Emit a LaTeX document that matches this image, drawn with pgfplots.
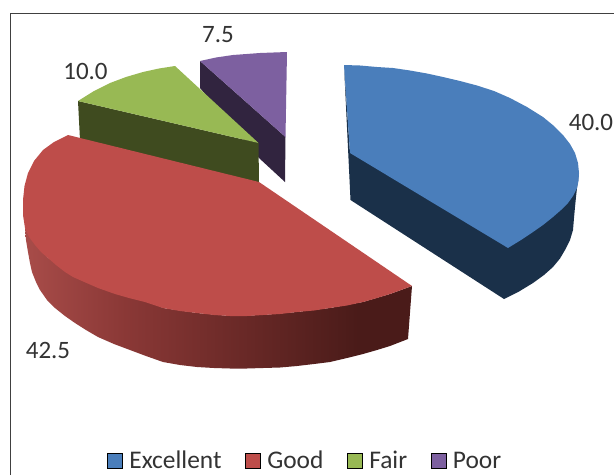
\documentclass[border=0pt]{standalone}
\usepackage{fontspec}
\setmainfont{Carlito}
\usepackage{pgfplots}
\pgfplotsset{compat=1.18}
\definecolor{cblue}{HTML}{4A7EBB}
\definecolor{cblued}{HTML}{1A3049}
\definecolor{cred}{HTML}{BE4D4A}
\definecolor{cgreen}{HTML}{98B954}
\definecolor{cgreend}{HTML}{3F4B1F}
\definecolor{cpurple}{HTML}{7D60A0}
\definecolor{cpurpled}{HTML}{31243F}
\definecolor{ctxt}{HTML}{333333}
\definecolor{rs1}{HTML}{A84C49}
\definecolor{rs2}{HTML}{8A3836}
\definecolor{rs3}{HTML}{6C2A28}
\definecolor{rs4}{HTML}{4A1B19}
\pgfdeclarehorizontalshading{redside}{100bp}{color(0bp)=(rs1); color(25bp)=(rs1); color(38bp)=(rs2); color(52bp)=(rs3); color(68bp)=(rs4); color(75bp)=(rs4); color(100bp)=(rs4)}
\newcommand{\lbl}{\fontsize{25}{30}\selectfont}
\begin{document}
\begin{tikzpicture}
\begin{axis}[
  scale only axis, width=614pt, height=475pt,
  xmin=0, xmax=614, ymin=0, ymax=475, y dir=reverse,
  hide axis, clip=true,
  legend columns=-1,
  legend image code/.code={\fill[#1] (0pt,-7.5pt) rectangle (15pt,7.5pt); \path (22pt,0pt);},
  legend style={at={(axis cs:107,460.5)}, anchor=west, draw=none, fill=none, inner sep=0pt, outer sep=0pt,
    nodes={inner sep=0pt, outer sep=0pt, text depth=0pt, text height=16pt},
    font=\fontsize{25.4}{30}\selectfont\color{ctxt}, /tikz/every even column/.append style={column sep=23.4pt}},
]
% background, fixes the picture's extent
\addplot[forget plot, fill=white, draw=none] coordinates {(0,0)(614,0)(614,475)(0,475)} --cycle;
% frame
\addplot[forget plot, color=black!75, line width=0.9pt] coordinates {(10,475)(10,13)(614,13)};
% Excellent side
\addplot[forget plot, fill=cblued, draw=none] coordinates {
 (344,65)(350.5,200)(504,299)(519,291.5)(533,283)(544,275)(553,267)(560,258.5)(565,250)(570,240)(573,230)(574,218)(575,207)(576,197)(577,188)(579,173)(510,200)(350,153)} --cycle;
% Excellent top
\addplot[forget plot, fill=cblue, draw=none] coordinates {
 (344,65)(360,65.5)(377,67)(393,68)(410,70.5)(427,73.5)(443,77)(460,81)(477,85.5)(494,91)(510,98)(527,107)(543,117)(554,126)(563,135)(570,144)(575,153)(578,163)(579,173)(578.5,181)(577,188)(573,196)(568,203)(561,210)(553,217)(543,225)(533,232)(521,240)(508,248)(350,153)} --cycle;
% Poor side
\addplot[forget plot, fill=cpurpled, draw=none] coordinates {(200,61)(285.5,137)(285,182)(259,158)(200,88)} --cycle;
% Poor top
\addplot[forget plot, fill=cpurple, draw=none] coordinates {(200,61)(216,57.5)(233,55)(260,53)(287,52)(285.5,137)} --cycle;
% Fair side
\addplot[forget plot, fill=cgreend, draw=none] coordinates {(78,101)(258.5,143)(259,183)(80,140)} --cycle;
% Fair top
\addplot[forget plot, fill=cgreen, draw=none] coordinates {(175,66)(159,68.5)(143,72)(126,77)(110,83)(94,91)(78,101)(258.5,143)} --cycle;
% Good side
\addplot[forget plot, shading=redside, draw=none] coordinates {
 (25,228)(26,240)(28,252)(30,263)(32,272)(36,282)(40,290)(47,300)(55,308)(65,316)(75,323)(86,330)(98,337)(114,344)(130,350)(146,356)(163,362)(180,365)(197,367)(214,368)(230,368.5)(247,368.5)(263,368)(280,367.5)(297,366)(314,364)(330,362)(347,358)(363,354)(377,350)(390,346)(408,339)(412,286)(390,294)(363,302)(330,308)(297,312)(263,315)(230,316)(197,313)(163,308)(48,258)} --cycle;
% Good top
\addplot[forget plot, fill=cred, draw=none] coordinates {
 (68,135)(54,142)(43,150)(34,161)(28,173)(24.5,186)(23,200)(23,215)(25,228)(29,237)(35,245)(41,252)(48,258)(56,265)(65,272)(73,277)(82,281)(98,288)(115,294)(130,298.3)(145,302)(163,308)(180,311)(197,313)(214,315)(230,316)(247,316)(263,315)(280,314)(297,312)(314,310.5)(330,308)(347,305.5)(363,302)(377,298)(390,294)(401,290)(412,286)(259,182)} --cycle;
% labels
\node[anchor=base, font=\lbl, text=ctxt] at (axis cs:218,42) {7.5};
\node[anchor=base, font=\lbl, text=ctxt] at (axis cs:85.5,79) {10.0};
\node[anchor=base, font=\lbl, text=ctxt] at (axis cs:591,130) {40.0};
\node[anchor=base, font=\lbl, text=ctxt] at (axis cs:48,358) {42.5};
% legend
\addlegendimage{fill=cblue}\addlegendentry{Excellent\hspace{2pt}}
\addlegendimage{fill=cred}\addlegendentry{Good\hspace{-3pt}}
\addlegendimage{fill=cgreen}\addlegendentry{Fair}
\addlegendimage{fill=cpurple}\addlegendentry{Poor}
\end{axis}
\end{tikzpicture}
\end{document}
